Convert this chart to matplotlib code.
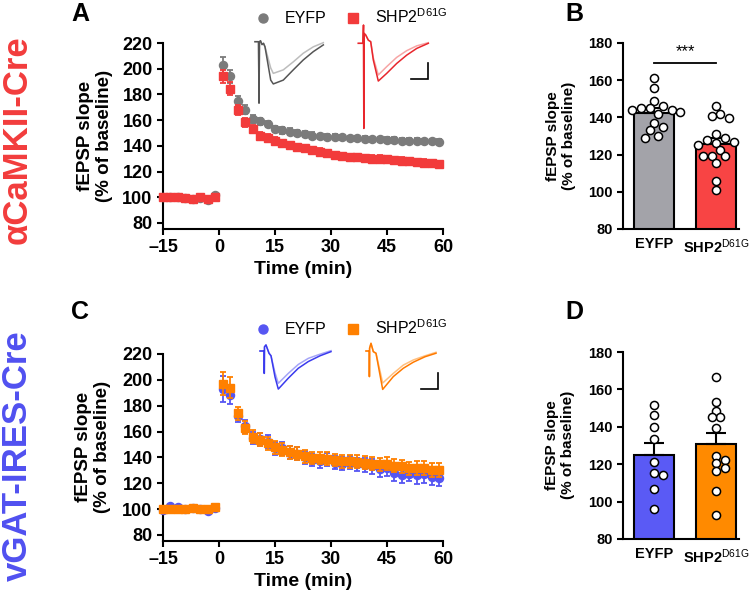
import numpy as np
import matplotlib
matplotlib.use('Agg')
import matplotlib.pyplot as plt
from matplotlib.lines import Line2D

plt.rcParams['font.family'] = ['Liberation Sans', 'DejaVu Sans']
plt.rcParams['mathtext.fontset'] = 'custom'
plt.rcParams['mathtext.rm'] = 'Liberation Sans'
plt.rcParams['mathtext.bf'] = 'Liberation Sans:bold'
plt.rcParams['mathtext.it'] = 'Liberation Sans:italic'

# ---------------- data ----------------
time_min = [-15, -13, -11, -9, -7, -5, -3, -1,
            1, 3, 5, 7, 9, 11, 13, 15, 17, 19, 21, 23, 25, 27, 29,
            31, 33, 35, 37, 39, 41, 43, 45, 47, 49, 51, 53, 55, 57, 59]

a_eyfp_mean = [100, 100.5, 100, 99.5, 99, 99.5, 97.5, 101.5,
               203, 194, 175, 168, 161, 159, 157, 153, 152, 151,
               150, 149, 148, 147.5, 147, 147, 146.5, 146, 146, 145.5,
               145, 145, 144.5, 144.5, 144, 144, 144, 143.5, 143.5, 143]
a_eyfp_sem = [1, 1, 1, 1, 1, 1, 1.5, 1.5,
              6, 5, 4, 3.5, 3, 3, 2.5, 2.5, 2.5, 2.5,
              2.5, 2.5, 2.5, 2, 2, 2, 2, 2, 2, 2,
              2, 2, 2, 2, 2, 2, 2, 2, 2, 2]
a_shp2_mean = [100, 100.5, 100, 99.5, 99, 100, 99, 100,
               194, 184.5, 168, 158.5, 153, 148, 146, 144, 142, 140.5,
               139, 138, 136.5, 135.5, 134.5, 133, 132, 131.5, 131, 130.5,
               130, 130, 129.5, 129, 128.5, 128, 127.5, 127, 126.5, 126]
a_shp2_sem = [1.5, 1.5, 1.5, 1.5, 1.5, 1.5, 1.5, 1.5,
              5, 5, 4, 3.5, 3, 3, 3, 2.5, 2.5, 2.5,
              2.5, 2.5, 2.5, 2.5, 2.5, 2.5, 2.5, 2.5, 2.5, 2.5,
              2.5, 2.5, 2.5, 2.5, 2.5, 2.5, 2.5, 2.5, 2.5, 2.5]

c_eyfp_mean = [99, 102.5, 101.5, 100, 101, 100, 98.5, 101,
               193, 188, 172, 164, 155, 154, 152, 147, 147, 143.5,
               143, 140, 138, 137, 138.5, 136, 135, 136, 134.5, 134,
               133, 131, 131.5, 128, 126, 127.5, 126, 127, 125, 124]
c_eyfp_sem = [1, 1, 1, 1, 1, 1, 1, 1,
              10, 7, 5, 5, 5, 5, 5, 5, 5, 5,
              5, 5, 5, 5, 5, 5, 5, 5, 5, 5.5,
              5.5, 6, 6, 6, 6, 6, 6.5, 6.5, 6.5, 6.5]
c_shp2_mean = [100, 100, 100, 100, 101, 100, 100, 101.5,
               197, 194, 174, 163, 156, 153.5, 151, 148, 146, 144,
               143, 141, 139.5, 139.5, 139, 138, 137, 137, 136.5, 136,
               135, 134.5, 135, 133.5, 133, 131.5, 132, 131.5, 130.5, 130]
c_shp2_sem = [1.5, 1.5, 1.5, 1.5, 1.5, 1.5, 1.5, 1.5,
              9, 8, 5, 5, 5, 5, 5, 5, 5, 5,
              5, 5, 5, 5, 5, 5, 5, 5, 5, 5,
              5, 5, 5, 5, 5, 5, 5.5, 5.5, 5.5, 5.5]

b_eyfp_pts = [161, 156, 149, 146, 145, 145, 144, 144, 143, 142, 137, 135, 133, 130, 129]
b_shp2_pts = [146, 142, 141, 139.5, 131, 129, 128, 127, 126, 125, 122.5, 119.5, 119, 119, 115.5, 106, 101]
d_eyfp_pts = [151.6, 146.3, 140, 133.4, 121.1, 114.3, 115.5, 106.6, 96.1]
d_shp2_pts = [166.6, 153, 148.6, 145.2, 145.2, 139.5, 124.6, 120.5, 122.3, 116.1, 118.2, 105.9, 92.9]

group_labels = ['EYFP', r'SHP2$^{\mathrm{D61G}}$']
x_ticks_time = [-15, 0, 15, 30, 45, 60]
x_ticklabels_time = ['\u201315', '0', '15', '30', '45', '60']
y_ticks_time = [80, 100, 120, 140, 160, 180, 200, 220]
y_ticks_bar = [80, 100, 120, 140, 160, 180]

# example traces (ms, mV): pre = baseline (light), post = after LTP (dark)
tr_a_eyfp_t = [0, 1.03, 1.18, 1.32, 1.62, 2.06, 2.5, 2.94, 4.62, 5.38, 8.32, 11.26, 14.2, 17.15, 20.1]
tr_a_eyfp_post = [0, 0, -1.92, 0, 0.03, -0.09, -0.05, -0.16, -1.2, -1.32, -1.2, -0.88, -0.57, -0.31, -0.1]
tr_a_eyfp_pre = [0, 0, -1.92, 0, 0.03, -0.09, -0.05, -0.16, -0.82, -0.99, -0.88, -0.63, -0.36, -0.16, -0.03]
tr_a_shp2_t = [0, 1.38, 1.53, 1.62, 1.71, 2.18, 2.94, 3.65, 4.41, 5.88, 8.35, 11.29, 14.24, 17.18, 20.59]
tr_a_shp2_post = [0, 0, 0.57, -2.66, 0.31, 0.26, 0.10, 0.05, -0.52, -1.18, -0.94, -0.63, -0.37, -0.16, 0]
tr_a_shp2_pre = [0, 0, 0.57, -2.66, 0.31, 0.26, 0.10, 0.05, -0.45, -0.99, -0.73, -0.44, -0.23, -0.08, 0.02]
tr_c_eyfp_t = [0, 1.24, 1.26, 1.32, 1.76, 2.65, 3.24, 4.41, 5.38, 8.32, 11.26, 14.2, 17.65, 20.88]
tr_c_eyfp_post = [0, 0, -0.70, 0.13, 0.19, -0.07, -0.15, -0.81, -1.19, -0.85, -0.54, -0.33, -0.15, -0.02]
tr_c_eyfp_pre = [0, 0, -0.70, 0.13, 0.19, -0.07, -0.15, -0.68, -1.01, -0.70, -0.42, -0.23, -0.10, 0.01]
tr_c_shp2_t = [0, 0.97, 1.0, 1.06, 1.47, 2.15, 2.94, 4.12, 4.91, 8.03, 10.97, 13.91, 17.35, 20.59]
tr_c_shp2_post = [0, 0, -0.80, 0.09, 0.24, -0.02, -0.07, -0.75, -1.2, -0.80, -0.54, -0.35, -0.18, -0.07]
tr_c_shp2_pre = [0, 0, -0.80, 0.09, 0.24, -0.02, -0.07, -0.62, -1.0, -0.70, -0.44, -0.28, -0.15, -0.04]
scale_ms, scale_mv = 5, 0.5

# ---------------- style ----------------
GRAY_PT = '#7b7b7b'
RED_PT = '#f23b3b'
BLUE_PT = '#5656f2'
ORANGE_PT = '#ff8000'
GRAY_BAR = '#a3a3a9'
RED_BAR = '#f84444'
BLUE_BAR = '#5a5af5'
ORANGE_BAR = '#ff8a00'

W, H = 750, 602
fig = plt.figure(figsize=(7.5, 6.02), dpi=100)


def px_rect(l, t, r, b):
    return [l / W, 1 - b / H, (r - l) / W, (b - t) / H]


def style_axes(ax, lw=1.5):
    for s in ['top', 'right']:
        ax.spines[s].set_visible(False)
    for s in ['left', 'bottom']:
        ax.spines[s].set_linewidth(lw)
    ax.tick_params(width=lw, length=4, direction='out')


def time_panel(rect, m1, s1, m2, s2, c1, c2):
    ax = fig.add_axes(rect)
    style_axes(ax)
    ax.errorbar(time_min, m1, yerr=s1, fmt='o', ms=5.8, color=c1, ecolor=c1,
                elinewidth=1.3, capsize=2.5, capthick=1.3, zorder=3, clip_on=False)
    ax.errorbar(time_min, m2, yerr=s2, fmt='s', ms=6.3, color=c2, ecolor=c2,
                elinewidth=1.3, capsize=2.5, capthick=1.3, zorder=4, clip_on=False)
    ax.set_xlim(-15, 60)
    ax.set_ylim(75.3, 220)
    ax.set_xticks(x_ticks_time)
    ax.set_xticklabels(x_ticklabels_time)
    ax.set_yticks(y_ticks_time)
    for lab in ax.get_xticklabels() + ax.get_yticklabels():
        lab.set_fontweight('bold')
        lab.set_fontsize(13)
    ax.set_xlabel('Time (min)', fontsize=14, fontweight='bold', labelpad=3)
    return ax


def swarm(values, x_px_unit, y_px_unit, diam):
    vals = np.asarray(values, float)
    order = np.argsort(-vals)
    placed = []
    offs = np.zeros(len(vals))
    step = diam * 0.55
    for i in order:
        y = vals[i] * y_px_unit
        chosen = None
        k = 0
        while chosen is None:
            cands = [0.0] if k == 0 else [k * step, -k * step]
            for c in cands:
                if all((c - px) ** 2 + (y - py) ** 2 >= (diam * 0.95) ** 2 for px, py in placed):
                    chosen = c
                    break
            k += 1
        placed.append((chosen, y))
        offs[i] = chosen / x_px_unit
    return offs


def bar_panel(rect, pts1, pts2, c1, c2):
    ax = fig.add_axes(rect)
    style_axes(ax)
    groups = [np.array(pts1), np.array(pts2)]
    colors = [c1, c2]
    means = [g.mean() for g in groups]
    sems = [g.std(ddof=1) / np.sqrt(len(g)) for g in groups]
    xs = [0, 1]
    ax.bar(xs, means, width=0.645, color=colors, edgecolor='black', linewidth=1.5, zorder=2)
    ax.errorbar(xs, means, yerr=[[0, 0], sems], fmt='none', ecolor='black',
                elinewidth=1.5, capsize=7, capthick=1.5, zorder=3)
    bbox_h = rect[3] * H
    y_px_unit = bbox_h / 100.0
    x_px_unit = rect[2] * W / 1.87
    for x, g in zip(xs, groups):
        offs = swarm(g, x_px_unit, y_px_unit, 8.0)
        ax.scatter(x + offs, g, s=34, facecolor='white', edgecolor='black',
                   linewidth=1.1, zorder=4, clip_on=False)
    ax.set_xlim(-0.5, 1.37)
    ax.set_ylim(80, 180)
    ax.set_yticks(y_ticks_bar)
    ax.set_xticks(xs)
    ax.set_xticklabels(group_labels)
    ax.tick_params(axis='x', length=0, pad=6)
    for lab in ax.get_xticklabels() + ax.get_yticklabels():
        lab.set_fontweight('bold')
        lab.set_fontsize(10.5)
    return ax


def trace_axes(x0, y0):
    pxms, pxmv = 3.4, 32.0
    t0, t1, v0, v1 = -1, 23, -3.0, 0.8
    left = x0 + t0 * pxms
    width = (t1 - t0) * pxms
    top = y0 - v1 * pxmv
    height = (v1 - v0) * pxmv
    ax = fig.add_axes([left / W, 1 - (top + height) / H, width / W, height / H])
    ax.set_xlim(t0, t1)
    ax.set_ylim(v0, v1)
    ax.axis('off')
    ax.patch.set_alpha(0)
    return ax


def draw_trace(ax, t, pre, post, light, dark):
    ax.plot(t, pre, color=light, lw=1.1, clip_on=False, solid_joinstyle='round')
    ax.plot(t, post, color=dark, lw=1.1, clip_on=False, solid_joinstyle='round')


def scale_bar(ax, tc, vc):
    ax.plot([tc - scale_ms, tc, tc], [vc, vc, vc + scale_mv], color='black', lw=1.2,
            clip_on=False, solid_joinstyle='miter')


# ---------------- panels ----------------
axA = time_panel(px_rect(163, 43, 443, 229), a_eyfp_mean, a_eyfp_sem, a_shp2_mean, a_shp2_sem,
                 GRAY_PT, RED_PT)
axC = time_panel(px_rect(163, 354, 443, 541), c_eyfp_mean, c_eyfp_sem, c_shp2_mean, c_shp2_sem,
                 BLUE_PT, ORANGE_PT)
axB = bar_panel(px_rect(623, 43, 739, 229), b_eyfp_pts, b_shp2_pts, GRAY_BAR, RED_BAR)
axD = bar_panel(px_rect(623, 352, 739, 539), d_eyfp_pts, d_shp2_pts, BLUE_BAR, ORANGE_BAR)

# significance in B
axB.plot([0, 1], [169.3, 169.3], color='black', lw=1.3, zorder=5, clip_on=False)
axB.text(0.5, 171.5, '***', ha='center', va='bottom', fontsize=12)

# y labels
ylab = 'fEPSP slope\n(% of baseline)'
fig.text(95 / W, 1 - 136 / H, ylab, rotation=90, ha='center', va='center',
         fontsize=13.5, fontweight='bold', multialignment='center', linespacing=1.1)
fig.text(93 / W, 1 - 447 / H, ylab, rotation=90, ha='center', va='center',
         fontsize=13.5, fontweight='bold', multialignment='center', linespacing=1.1)
fig.text(561 / W, 1 - 136 / H, ylab, rotation=90, ha='center', va='center',
         fontsize=11, fontweight='bold', multialignment='center', linespacing=1.1)
fig.text(560 / W, 1 - 445 / H, ylab, rotation=90, ha='center', va='center',
         fontsize=11, fontweight='bold', multialignment='center', linespacing=1.1)

# panel letters
for letter, (x, y) in zip('ABCD', [(80, 14), (574, 14), (80, 312), (574, 312)]):
    fig.text(x / W, 1 - y / H, letter, ha='center', va='center', fontsize=18, fontweight='bold')

# row labels
fig.text(17 / W, 1 - 140 / H, '\u03b1CaMKII-Cre', rotation=90, ha='center', va='center',
         fontsize=25, fontweight='bold', color='#f23c3c')
fig.text(17 / W, 1 - 456 / H, 'vGAT-IRES-Cre', rotation=90, ha='center', va='center',
         fontsize=25, fontweight='bold', color='#5050f0')

# legends
def legend_for(c1, c2, y):
    handles = [Line2D([], [], marker='o', ls='none', ms=6.5, color=c1),
               Line2D([], [], marker='s', ls='none', ms=6.5, color=c2)]
    fig.legend(handles, group_labels, loc='center', bbox_to_anchor=(0.468, y), ncol=2,
               frameon=False, fontsize=11.5, handlelength=1.0, handletextpad=0.9,
               columnspacing=1.1, borderpad=0)

legend_for(GRAY_PT, RED_PT, 1 - 17 / H)
legend_for(BLUE_PT, ORANGE_PT, 1 - 328 / H)

# traces
ta1 = trace_axes(255, 41.7)
draw_trace(ta1, tr_a_eyfp_t, tr_a_eyfp_pre, tr_a_eyfp_post, '#bdbdbd', '#555555')
ta2 = trace_axes(358.3, 43.3)
draw_trace(ta2, tr_a_shp2_t, tr_a_shp2_pre, tr_a_shp2_post, '#f7a5a5', '#e8262c')
scale_bar(ta2, 20.6, -1.12)
tc1 = trace_axes(260, 351)
draw_trace(tc1, tr_c_eyfp_t, tr_c_eyfp_pre, tr_c_eyfp_post, '#a5a5f7', '#3a3aee')
tc2 = trace_axes(366, 351)
draw_trace(tc2, tr_c_shp2_t, tr_c_shp2_pre, tr_c_shp2_post, '#ffc080', '#ff7a00')
scale_bar(tc2, 21.1, -1.2)

fig.savefig('out.png', dpi=100)
